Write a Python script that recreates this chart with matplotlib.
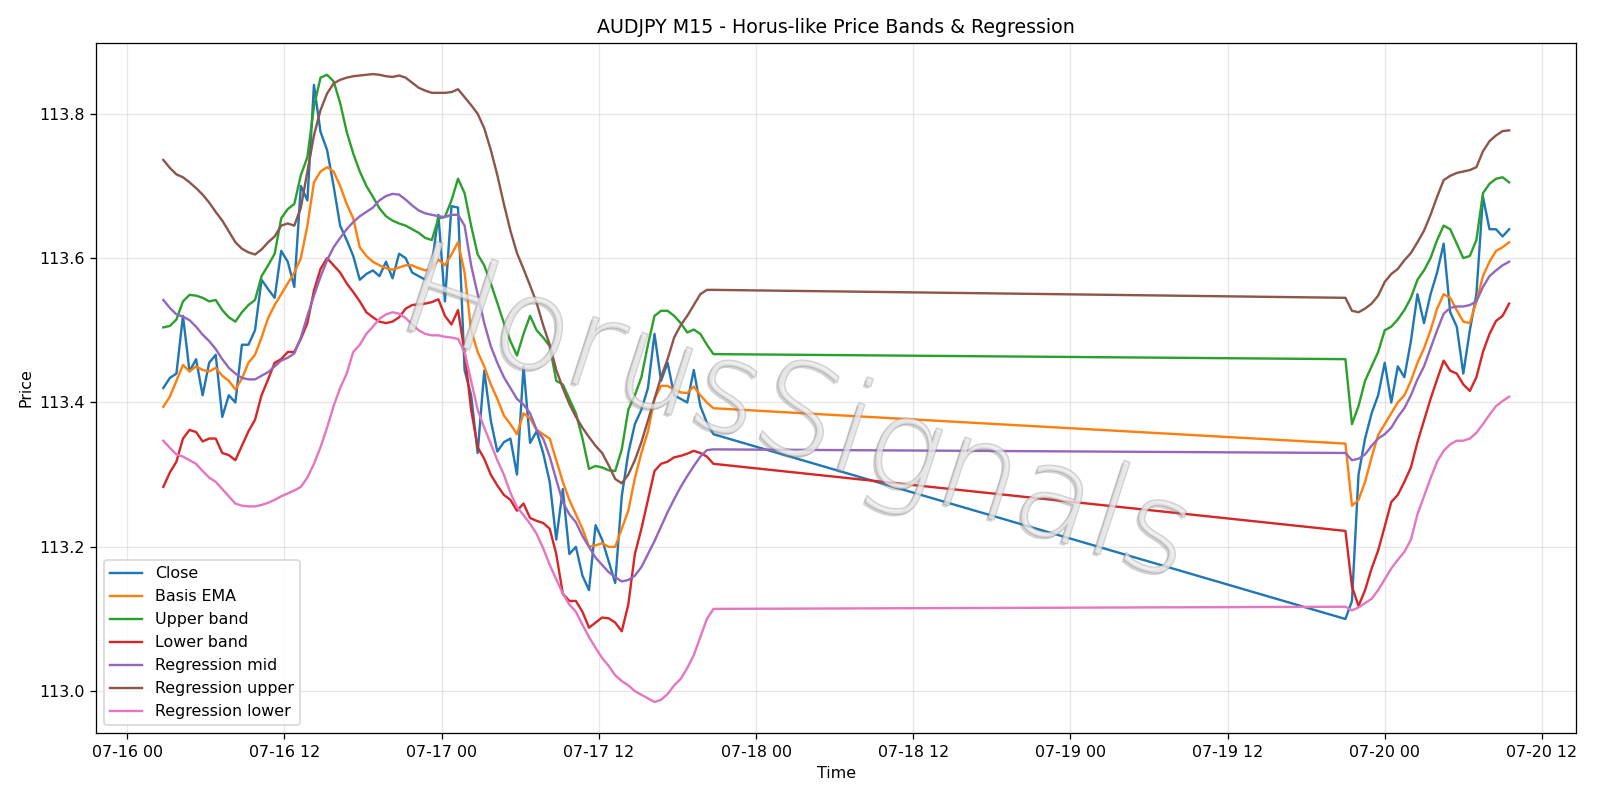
"""
AUDJPY M15 price bands and regression channel, redrawn from a saved chart.
"""
import matplotlib
matplotlib.use("Agg")
import matplotlib.pyplot as plt
import matplotlib.patheffects as pe
import pandas as pd

# two trading sessions sampled every 30 minutes, the gap is drawn as a straight join
session_1 = ("2025-07-16 02:45", "2025-07-17 20:45")
session_2 = ("2025-07-19 21:00", "2025-07-20 09:30")

close = [
    113.42, 113.434, 113.44, 113.52, 113.443, 113.46, 113.41, 113.455, 113.466, 113.38,
    113.41, 113.40, 113.48, 113.48, 113.50, 113.57, 113.557, 113.545, 113.61, 113.595,
    113.56, 113.70, 113.68, 113.84, 113.775, 113.75, 113.70, 113.645, 113.625,
    113.603, 113.57, 113.578, 113.583, 113.575, 113.595, 113.572, 113.606, 113.60, 113.58,
    113.575, 113.57, 113.59, 113.66, 113.54, 113.672, 113.67, 113.445, 113.41, 113.33,
    113.444, 113.375, 113.332, 113.345, 113.35, 113.30, 113.45, 113.344, 113.36,
    113.33, 113.29, 113.21, 113.28, 113.19, 113.20, 113.16, 113.14, 113.23, 113.21,
    113.18, 113.15, 113.27, 113.33, 113.37, 113.39, 113.42, 113.495, 113.43, 113.455,
    113.41, 113.405, 113.40, 113.445, 113.395, 113.372, 113.356,
    # second session
    113.10, 113.125, 113.30, 113.35, 113.385, 113.41, 113.455, 113.40, 113.45, 113.435,
    113.485, 113.55, 113.51, 113.55, 113.58, 113.62, 113.525, 113.505, 113.44, 113.50,
    113.55, 113.685, 113.64, 113.64, 113.63, 113.64,
]

basis_ema = [
    113.394, 113.408, 113.43, 113.452, 113.443, 113.45, 113.445, 113.443, 113.448, 113.437,
    113.43, 113.418, 113.433, 113.455, 113.466, 113.49, 113.517, 113.535, 113.55, 113.565,
    113.58, 113.60, 113.645, 113.705, 113.72, 113.726, 113.72, 113.70, 113.675,
    113.655, 113.615, 113.603, 113.595, 113.59, 113.586, 113.584, 113.587, 113.59, 113.59,
    113.586, 113.583, 113.585, 113.598, 113.59, 113.605, 113.622, 113.58, 113.50, 113.47,
    113.45, 113.425, 113.405, 113.382, 113.37, 113.356, 113.385, 113.378, 113.362,
    113.356, 113.35, 113.32, 113.29, 113.265, 113.245, 113.225, 113.20, 113.202, 113.205,
    113.20, 113.20, 113.225, 113.25, 113.295, 113.33, 113.36, 113.405, 113.423, 113.423,
    113.418, 113.414, 113.413, 113.422, 113.41, 113.40, 113.392,
    113.343, 113.257, 113.265, 113.29, 113.324, 113.355, 113.37, 113.385, 113.40, 113.41,
    113.43, 113.455, 113.475, 113.50, 113.53, 113.55, 113.545, 113.528, 113.512, 113.51,
    113.54, 113.575, 113.595, 113.61, 113.615, 113.622,
]

upper_band = [
    113.504, 113.506, 113.515, 113.54, 113.549, 113.548, 113.545, 113.54, 113.542, 113.528,
    113.518, 113.512, 113.525, 113.535, 113.542, 113.575, 113.59, 113.606, 113.655, 113.668,
    113.675, 113.715, 113.74, 113.81, 113.85, 113.854, 113.845, 113.815, 113.775,
    113.745, 113.72, 113.70, 113.685, 113.669, 113.658, 113.652, 113.648, 113.645, 113.64,
    113.635, 113.628, 113.625, 113.655, 113.657, 113.68, 113.71, 113.69, 113.645, 113.605,
    113.59, 113.565, 113.538, 113.51, 113.485, 113.465, 113.495, 113.52, 113.50,
    113.49, 113.478, 113.43, 113.425, 113.405, 113.385, 113.35, 113.308, 113.312, 113.31,
    113.306, 113.305, 113.335, 113.39, 113.41, 113.435, 113.48, 113.52, 113.527, 113.527,
    113.52, 113.51, 113.497, 113.501, 113.495, 113.48, 113.467,
    113.46, 113.37, 113.395, 113.43, 113.45, 113.47, 113.50, 113.505, 113.515, 113.528,
    113.545, 113.57, 113.583, 113.60, 113.625, 113.645, 113.64, 113.62, 113.60, 113.603,
    113.625, 113.69, 113.703, 113.71, 113.712, 113.705,
]

lower_band = [
    113.283, 113.303, 113.318, 113.35, 113.362, 113.359, 113.346, 113.35, 113.35, 113.33,
    113.327, 113.32, 113.34, 113.36, 113.376, 113.41, 113.432, 113.455, 113.46, 113.47,
    113.47, 113.488, 113.51, 113.555, 113.585, 113.60, 113.59, 113.58, 113.565,
    113.553, 113.54, 113.525, 113.518, 113.512, 113.51, 113.512, 113.518, 113.53, 113.535,
    113.536, 113.537, 113.539, 113.543, 113.52, 113.508, 113.528, 113.47, 113.39, 113.338,
    113.322, 113.30, 113.285, 113.272, 113.265, 113.25, 113.26, 113.24, 113.236,
    113.233, 113.225, 113.19, 113.135, 113.125, 113.125, 113.11, 113.088, 113.095, 113.102,
    113.101, 113.095, 113.083, 113.12, 113.19, 113.225, 113.265, 113.305, 113.315, 113.318,
    113.324, 113.326, 113.329, 113.333, 113.33, 113.325, 113.315,
    113.222, 113.145, 113.118, 113.14, 113.17, 113.195, 113.228, 113.262, 113.272, 113.29,
    113.31, 113.345, 113.375, 113.405, 113.432, 113.458, 113.444, 113.44, 113.425, 113.416,
    113.435, 113.47, 113.495, 113.513, 113.52, 113.537,
]

reg_mid = [
    113.542, 113.531, 113.522, 113.519, 113.514, 113.505, 113.494, 113.485, 113.474, 113.46,
    113.448, 113.44, 113.434, 113.432, 113.432, 113.437, 113.442, 113.45, 113.458, 113.462,
    113.468, 113.49, 113.52, 113.548, 113.574, 113.597, 113.615, 113.628, 113.64,
    113.65, 113.658, 113.664, 113.67, 113.68, 113.686, 113.689, 113.688, 113.681, 113.673,
    113.666, 113.662, 113.66, 113.658, 113.657, 113.66, 113.66, 113.645, 113.59, 113.55,
    113.51, 113.478, 113.455, 113.435, 113.42, 113.405, 113.397, 113.385, 113.362,
    113.35, 113.325, 113.293, 113.262, 113.245, 113.234, 113.215, 113.20, 113.185, 113.175,
    113.165, 113.158, 113.152, 113.154, 113.16, 113.172, 113.19, 113.208, 113.228, 113.248,
    113.266, 113.283, 113.298, 113.312, 113.325, 113.334, 113.335,
    113.33, 113.32, 113.322, 113.328, 113.34, 113.35, 113.356, 113.365, 113.38, 113.392,
    113.41, 113.432, 113.45, 113.475, 113.50, 113.523, 113.531, 113.533, 113.533, 113.535,
    113.54, 113.56, 113.575, 113.583, 113.59, 113.595,
]

reg_upper = [
    113.736, 113.725, 113.716, 113.712, 113.705, 113.697, 113.688, 113.677, 113.664, 113.652,
    113.637, 113.622, 113.613, 113.608, 113.605, 113.612, 113.622, 113.63, 113.645, 113.648,
    113.645, 113.67, 113.72, 113.77, 113.805, 113.828, 113.842, 113.847, 113.85,
    113.852, 113.853, 113.854, 113.855, 113.854, 113.852, 113.851, 113.853, 113.85, 113.843,
    113.836, 113.832, 113.829, 113.829, 113.829, 113.83, 113.834, 113.823, 113.812, 113.80,
    113.78, 113.75, 113.715, 113.675, 113.638, 113.607, 113.585, 113.562, 113.538,
    113.507, 113.48, 113.445, 113.42, 113.398, 113.38, 113.365, 113.352, 113.34, 113.33,
    113.313, 113.294, 113.288, 113.30, 113.32, 113.345, 113.375, 113.405, 113.435, 113.46,
    113.49, 113.507, 113.52, 113.535, 113.55, 113.556, 113.556,
    113.545, 113.527, 113.525, 113.53, 113.537, 113.548, 113.567, 113.578, 113.585, 113.597,
    113.607, 113.622, 113.638, 113.66, 113.685, 113.708, 113.714, 113.718, 113.72, 113.722,
    113.726, 113.748, 113.762, 113.77, 113.776, 113.777,
]

reg_lower = [
    113.347, 113.337, 113.328, 113.325, 113.32, 113.315, 113.305, 113.296, 113.29, 113.28,
    113.27, 113.26, 113.257, 113.256, 113.256, 113.258, 113.261, 113.265, 113.27, 113.274,
    113.278, 113.283, 113.296, 113.315, 113.338, 113.365, 113.395, 113.42, 113.44,
    113.47, 113.48, 113.495, 113.505, 113.516, 113.522, 113.525, 113.523, 113.517, 113.508,
    113.50, 113.495, 113.493, 113.493, 113.491, 113.49, 113.488, 113.47, 113.43, 113.39,
    113.365, 113.343, 113.32, 113.30, 113.275, 113.255, 113.244, 113.232, 113.218,
    113.198, 113.175, 113.155, 113.135, 113.12, 113.11, 113.092, 113.075, 113.06, 113.046,
    113.035, 113.022, 113.014, 113.008, 113.0, 112.995, 112.99, 112.985, 112.988, 112.996,
    113.008, 113.017, 113.032, 113.05, 113.075, 113.10, 113.114,
    113.117, 113.112, 113.116, 113.122, 113.128, 113.14, 113.155, 113.17, 113.182, 113.193,
    113.21, 113.245, 113.27, 113.295, 113.318, 113.333, 113.342, 113.347, 113.347, 113.35,
    113.358, 113.37, 113.383, 113.395, 113.402, 113.408,
]

labels = ["Close", "Basis EMA", "Upper band", "Lower band",
          "Regression mid", "Regression upper", "Regression lower"]


def make_index():
    """Builds the time index of both sessions, 30 minutes apart."""
    first = pd.date_range(*session_1, freq="30min")
    second = pd.date_range(*session_2, freq="30min")
    return first.append(second)


def plot_bands(times, series):
    """Draws every series on one axis and saves the figure as out.png."""
    fig, ax = plt.subplots(figsize=(14, 7))
    for label, values in zip(labels, series):
        ax.plot(times, values, label=label)

    ax.set_title("AUDJPY M15 - Horus-like Price Bands & Regression")
    ax.set_xlabel("Time")
    ax.set_ylabel("Price")
    ax.grid(True, alpha=0.3)
    ax.legend(loc="lower left")

    # faint outlined watermark over the lines, with a soft shadow
    ax.text(0.473, 0.455, "HorusSignals", transform=ax.transAxes,
            fontsize=80, fontweight="light", rotation=-18,
            ha="center", va="center", color=(0.93, 0.93, 0.93, 0.5),
            path_effects=[pe.SimplePatchShadow(offset=(-1.5, -1.5),
                                               shadow_rgbFace=(0.5, 0.5, 0.5),
                                               alpha=0.35),
                          pe.withStroke(linewidth=1.2,
                                        foreground=(0.55, 0.55, 0.55, 0.4))])

    fig.tight_layout()
    fig.savefig("out.png", dpi=1600 / 14)


times = make_index()
plot_bands(times, [close, basis_ema, upper_band, lower_band,
                   reg_mid, reg_upper, reg_lower])
